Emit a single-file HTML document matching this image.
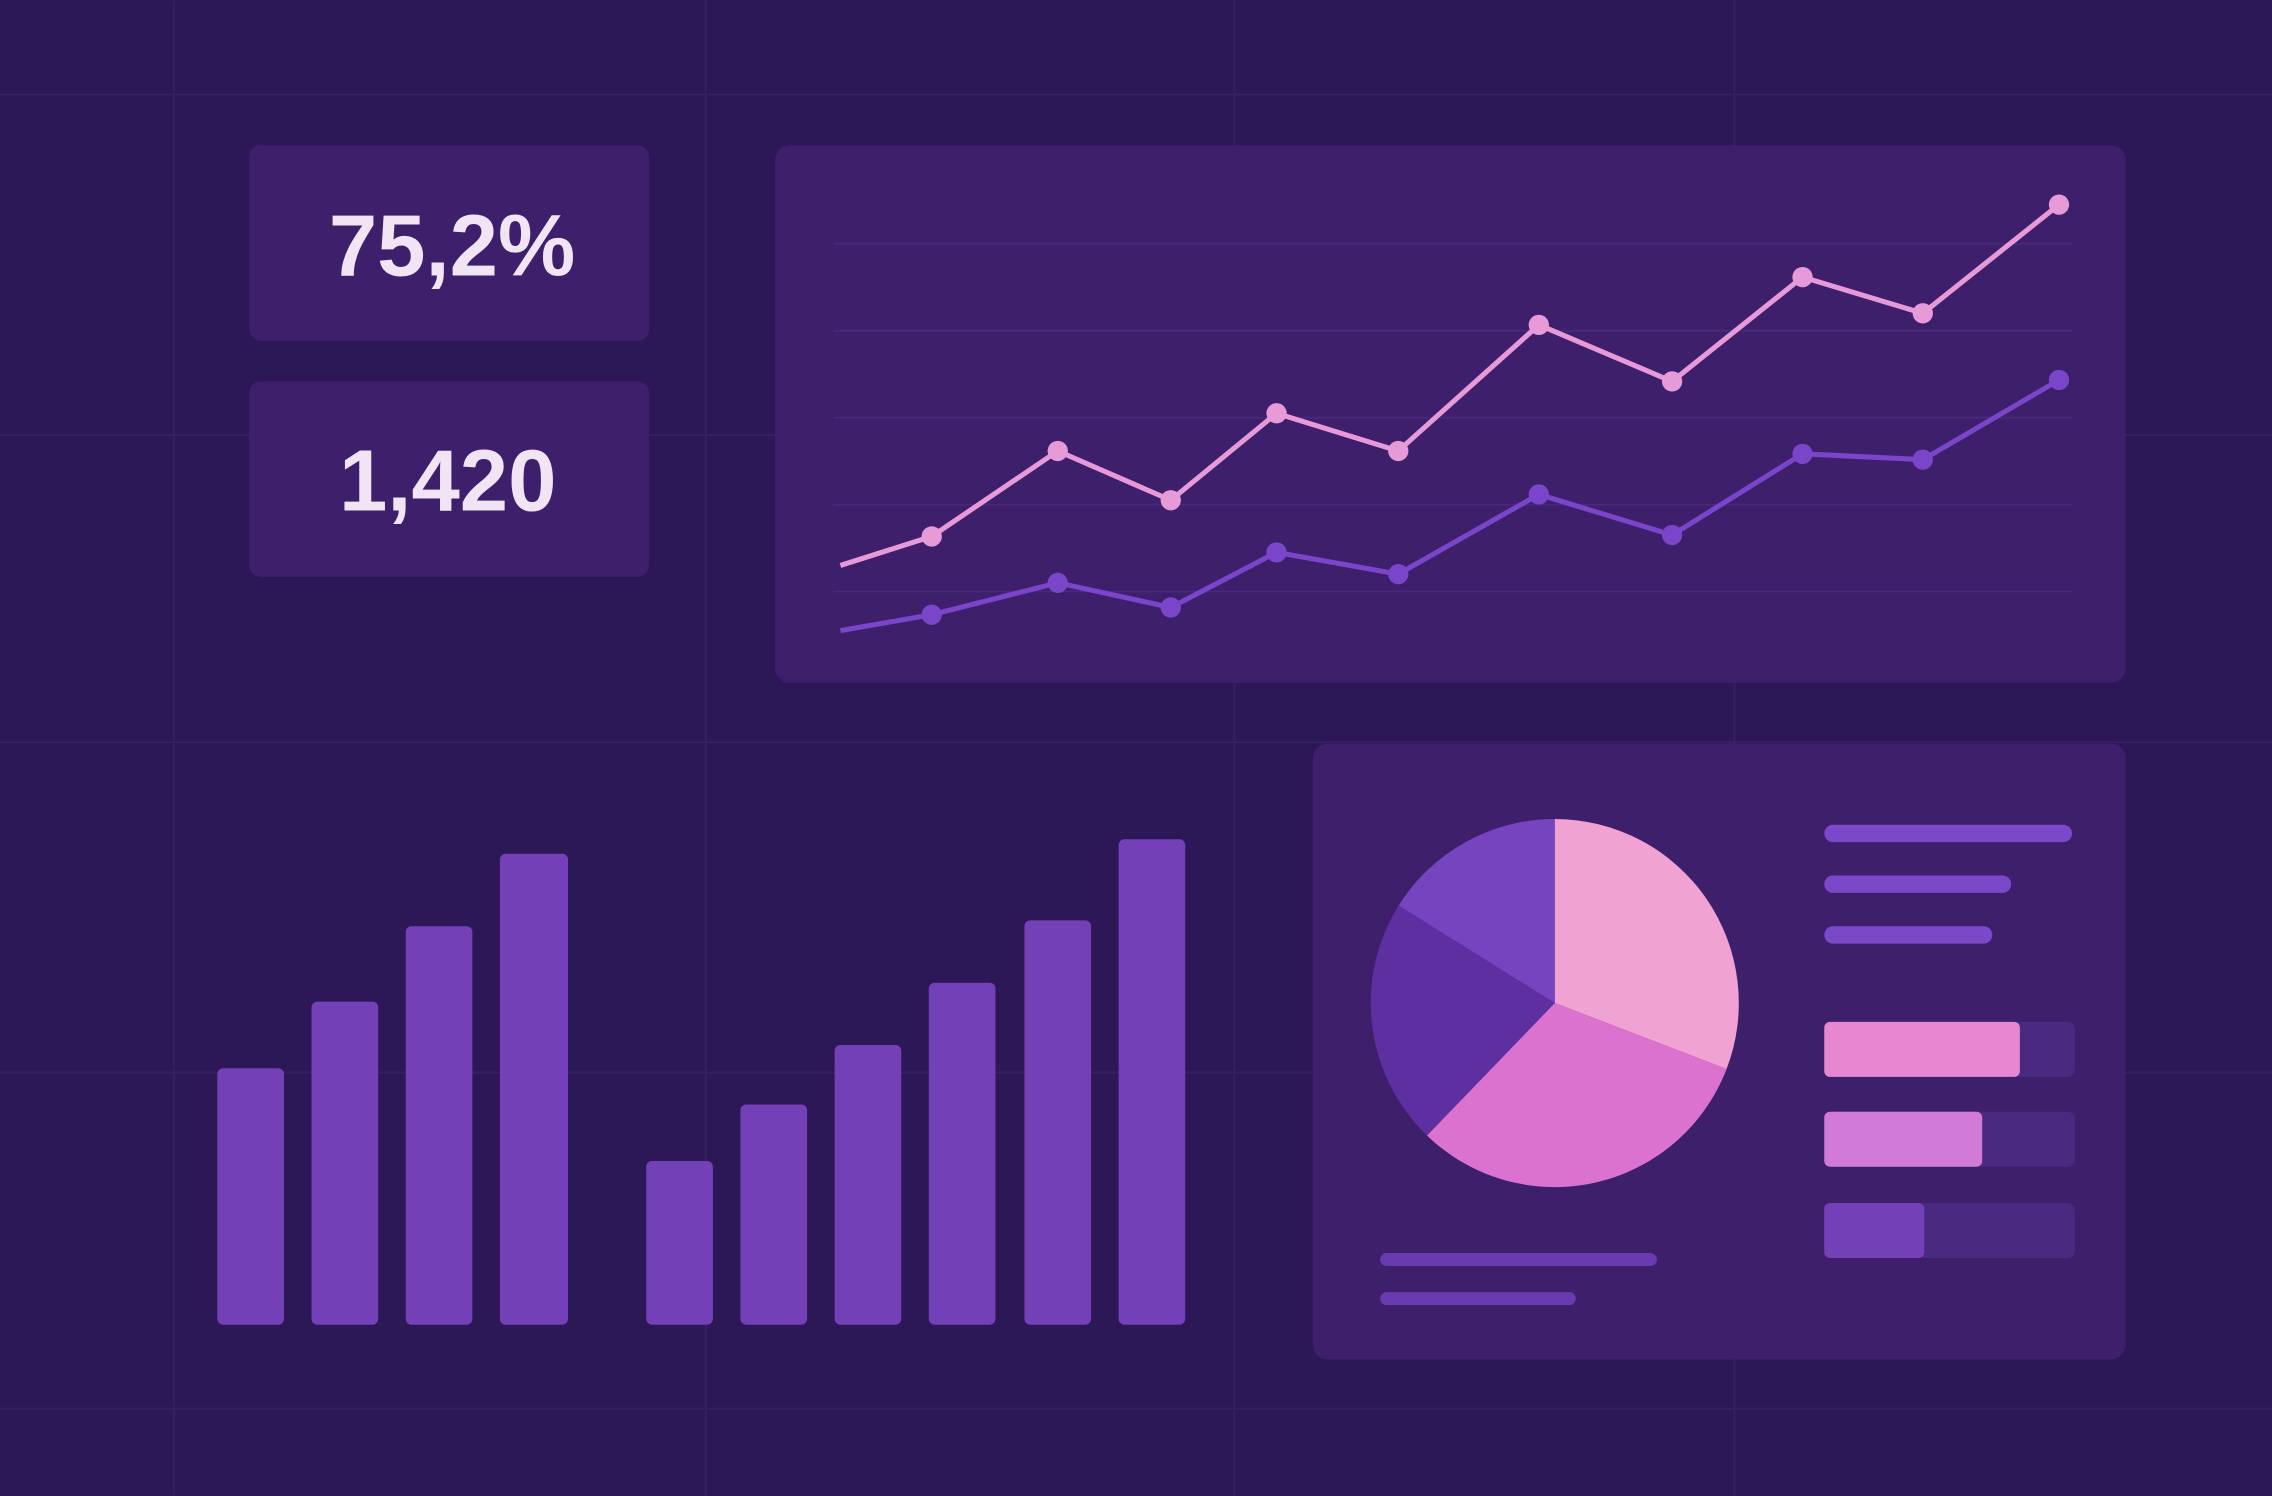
<!DOCTYPE html>
<html><head><style>html,body{margin:0;padding:0;background:#2b1655;}svg{display:block}</style></head>
<body>
<svg width="2272" height="1496" viewBox="0 0 1568 1032" xmlns="http://www.w3.org/2000/svg">
<rect width="1568" height="1032" fill="#2c1757"/>
<g stroke="#36205f" stroke-width="1.5">
<line x1="120" y1="0" x2="120" y2="1032"/><line x1="487" y1="0" x2="487" y2="1032"/>
<line x1="852" y1="0" x2="852" y2="1032"/><line x1="1197" y1="0" x2="1197" y2="1032"/>
<line x1="0" y1="65" x2="1568" y2="65"/><line x1="0" y1="300" x2="1568" y2="300"/>
<line x1="0" y1="512" x2="1568" y2="512"/><line x1="0" y1="740" x2="1568" y2="740"/>
<line x1="0" y1="972" x2="1568" y2="972"/>
</g>
<rect x="172" y="100" width="276" height="135" rx="8" fill="#3d1f6c"/>
<rect x="172" y="263" width="276" height="135" rx="8" fill="#3d1f6c"/>
<text x="312" y="190" font-family="Liberation Sans, sans-serif" font-weight="bold" font-size="60" fill="#f0e4f5" text-anchor="middle">75,2%</text>
<text x="309" y="352" font-family="Liberation Sans, sans-serif" font-weight="bold" font-size="60" fill="#f0e4f5" text-anchor="middle">1,420</text>
<rect x="535" y="100" width="932" height="371" rx="10" fill="#3d1f6c"/>
<g stroke="#48297a" stroke-width="1.2">
<line x1="575" y1="168" x2="1430" y2="168"/><line x1="575" y1="228" x2="1430" y2="228"/>
<line x1="575" y1="288" x2="1430" y2="288"/><line x1="575" y1="348" x2="1430" y2="348"/>
<line x1="575" y1="408" x2="1430" y2="408"/>
</g>
<polyline fill="none" stroke="#e79ad8" stroke-width="3.5" points="580,390 643,370 730,311 808,345 881,285 965,311 1062,224 1154,263 1244,191 1327,216 1421,141"/>
<g fill="#e79ad8"><circle cx="643" cy="370" r="7"/><circle cx="730" cy="311" r="7"/><circle cx="808" cy="345" r="7"/><circle cx="881" cy="285" r="7"/><circle cx="965" cy="311" r="7"/><circle cx="1062" cy="224" r="7"/><circle cx="1154" cy="263" r="7"/><circle cx="1244" cy="191" r="7"/><circle cx="1327" cy="216" r="7"/><circle cx="1421" cy="141" r="7"/></g>
<polyline fill="none" stroke="#7a45c8" stroke-width="3.5" points="580,435 643,424 730,402 808,419 881,381 965,396 1062,341 1154,369 1244,313 1327,317 1421,262"/>
<g fill="#7a45c8"><circle cx="643" cy="424" r="7"/><circle cx="730" cy="402" r="7"/><circle cx="808" cy="419" r="7"/><circle cx="881" cy="381" r="7"/><circle cx="965" cy="396" r="7"/><circle cx="1062" cy="341" r="7"/><circle cx="1154" cy="369" r="7"/><circle cx="1244" cy="313" r="7"/><circle cx="1327" cy="317" r="7"/><circle cx="1421" cy="262" r="7"/></g>
<g fill="#7440b8">
<rect x="150" y="737" width="46" height="177" rx="4"/><rect x="215" y="691" width="46" height="223" rx="4"/>
<rect x="280" y="639" width="46" height="275" rx="4"/><rect x="345" y="589" width="47" height="325" rx="4"/>
<rect x="446" y="801" width="46" height="113" rx="4"/><rect x="511" y="762" width="46" height="152" rx="4"/>
<rect x="576" y="721" width="46" height="193" rx="4"/><rect x="641" y="678" width="46" height="236" rx="4"/>
<rect x="707" y="635" width="46" height="279" rx="4"/><rect x="772" y="579" width="46" height="335" rx="4"/>
</g>
<rect x="906" y="513" width="561" height="425" rx="10" fill="#3d1f6c"/>
<g transform="translate(1073,692)">
<path d="M0,0 L0,-127 A127,127 0 0,1 118.6,45.5 Z" fill="#f0a2d2"/>
<path d="M0,0 L118.6,45.5 A127,127 0 0,1 -88.2,91.4 Z" fill="#dc72d0"/>
<path d="M0,0 L-88.2,91.4 A127,127 0 0,1 -107.7,-67.3 Z" fill="#5e2fa0"/>
<path d="M0,0 L-107.7,-67.3 A127,127 0 0,1 0,-127 Z" fill="#7744bf"/>
</g>
<g stroke="#7a48c8" stroke-width="12" stroke-linecap="round">
<line x1="1265" y1="575" x2="1424" y2="575"/><line x1="1265" y1="610" x2="1382" y2="610"/><line x1="1265" y1="645" x2="1369" y2="645"/>
</g>
<g fill="#4a2a80">
<rect x="1259" y="705" width="173" height="38" rx="5"/><rect x="1259" y="767" width="173" height="38" rx="5"/><rect x="1259" y="830" width="173" height="38" rx="5"/>
</g>
<rect x="1259" y="705" width="135" height="38" rx="4" fill="#e787d2"/>
<rect x="1259" y="767" width="109" height="38" rx="4" fill="#d27ad8"/>
<rect x="1259" y="830" width="69" height="38" rx="4" fill="#7440b8"/>
<g stroke="#6a3bb0" stroke-width="9" stroke-linecap="round">
<line x1="957" y1="869" x2="1139" y2="869"/><line x1="957" y1="896" x2="1083" y2="896"/>
</g>
</svg>
</body></html>
